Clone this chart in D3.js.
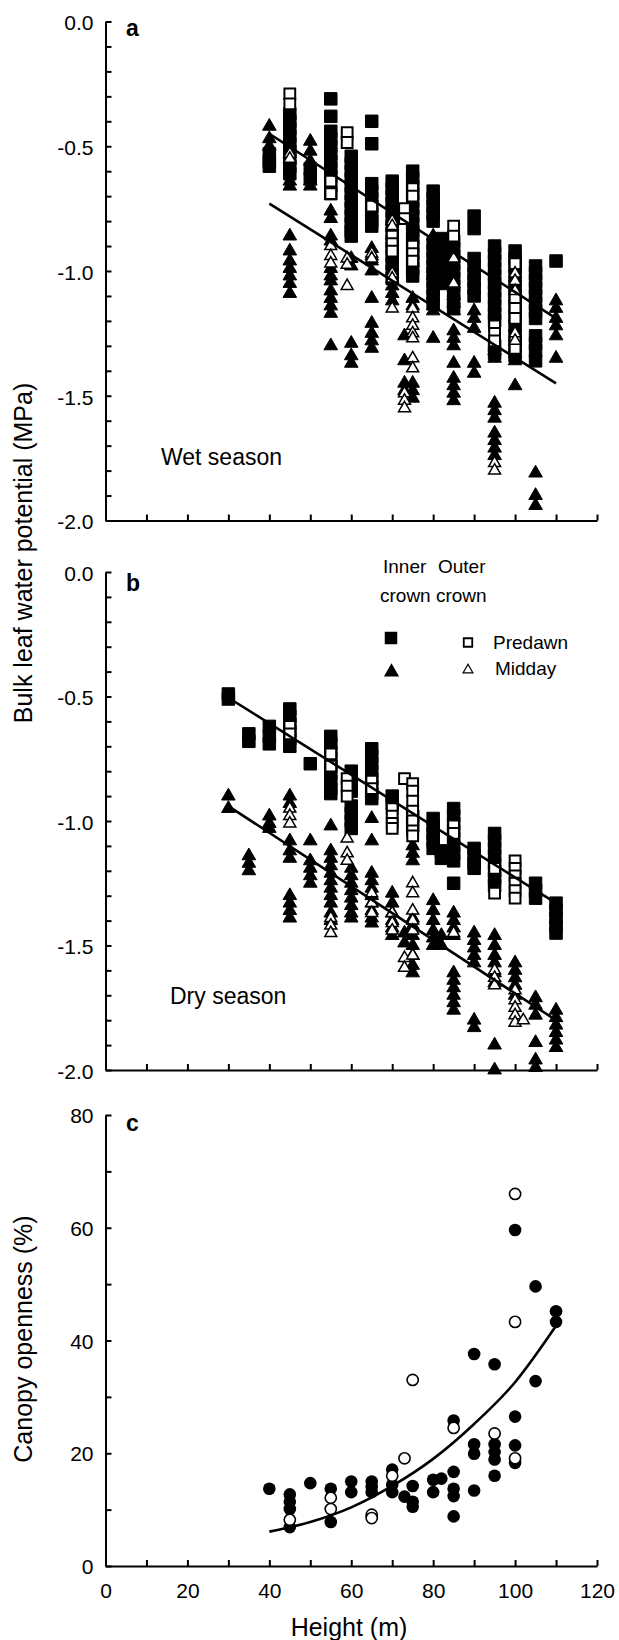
<html>
<head>
<meta charset="utf-8">
<script src="https://d3js.org/d3.v7.min.js"></script>
<style>
  body { margin: 0; background: #fff; }
  svg text { font-family: "Liberation Sans", Arial, sans-serif; fill: #000; }
  .axis path, .axis line { stroke: #000; stroke-width: 2; }
  .axis text { font-size: 21px; }
</style>
</head>
<body>
<svg id="fig" width="619" height="1640"></svg>
<script>
// ---- data: [height (m), values...] ----
// panel a, wet season
const wetInnerPredawn = [
  [40, -0.53, -0.56, -0.58],
  [45, -0.37, -0.40, -0.43, -0.46, -0.49, -0.52, -0.55, -0.58, -0.61],
  [50, -0.59, -0.63],
  [55, -0.31, -0.38, -0.44, -0.47, -0.50, -0.53, -0.56, -0.59, -0.62, -0.66, -0.69],
  [60, -0.54, -0.57, -0.60, -0.63, -0.66, -0.69, -0.72, -0.75, -0.78, -0.81, -0.84, -0.86],
  [65, -0.40, -0.49, -0.65, -0.68, -0.71, -0.74, -0.77, -0.80, -0.82],
  [70, -0.64, -0.67, -0.70, -0.73, -0.76, -0.79, -0.82, -0.85, -0.88, -0.91, -0.94, -0.97, -1.00, -1.03],
  [75, -0.60, -0.63, -0.66, -0.69, -0.72, -0.75, -0.78, -0.81, -0.84, -0.87, -0.90, -0.93, -0.96, -0.99, -1.02],
  [80, -0.68, -0.71, -0.74, -0.77, -0.80, -0.89, -0.92, -0.95, -0.98, -1.01, -1.04, -1.07, -1.10, -1.13],
  [82, -0.87, -0.90, -0.93, -0.96, -0.99, -1.02, -1.05],
  [85, -0.88, -0.91, -0.94, -0.97, -1.00, -1.03, -1.06, -1.09, -1.12, -1.15],
  [90, -0.78, -0.83, -0.95, -0.98, -1.01, -1.04, -1.07, -1.10],
  [95, -0.90, -0.93, -0.96, -0.99, -1.02, -1.05, -1.08, -1.11, -1.14, -1.17, -1.20, -1.30, -1.33],
  [100, -0.92, -0.95, -0.98, -1.02, -1.06, -1.10, -1.14, -1.18, -1.22, -1.26, -1.30, -1.34],
  [105, -0.98, -1.01, -1.04, -1.07, -1.10, -1.13, -1.16, -1.19, -1.26, -1.29, -1.32, -1.36],
  [110, -0.96]
];
const wetOuterPredawn = [
  [45, -0.29, -0.33],
  [55, -0.64, -0.69],
  [59, -0.445, -0.485],
  [65, -0.74],
  [70, -0.86, -0.89, -0.92],
  [73, -0.75, -0.79],
  [75, -0.67, -0.70, -0.90, -0.93, -0.96],
  [85, -0.82, -0.86],
  [95, -1.22, -1.25, -1.28],
  [100, -0.97, -1.11, -1.15, -1.19, -1.28, -1.31]
];
const wetInnerMidday = [
  [40, -0.42, -0.47, -0.50],
  [45, -0.64, -0.66, -0.86, -0.92, -0.96, -0.99, -1.02, -1.05, -1.09],
  [50, -0.48, -0.52, -0.56, -0.64, -0.66],
  [55, -0.76, -0.79, -0.86, -0.88, -0.99, -1.02, -1.04, -1.08, -1.11, -1.14, -1.17, -1.30],
  [60, -0.95, -0.98, -1.29, -1.34, -1.37],
  [65, -0.91, -0.94, -0.96, -1.00, -1.11, -1.21, -1.25, -1.28, -1.31],
  [70, -1.06, -1.09, -1.12],
  [73, -1.26, -1.36, -1.45, -1.48],
  [75, -1.11, -1.14, -1.45, -1.48, -1.51],
  [80, -0.86, -0.99, -1.02, -1.14, -1.16, -1.27],
  [82, -1.00, -1.03],
  [85, -1.10, -1.13, -1.16, -1.24, -1.27, -1.30, -1.37, -1.43, -1.46, -1.49, -1.52],
  [90, -1.16, -1.19, -1.23, -1.37, -1.41],
  [95, -1.32, -1.35, -1.53, -1.56, -1.59, -1.65, -1.68, -1.71, -1.74],
  [100, -1.33, -1.36, -1.46],
  [105, -1.81, -1.90, -1.94],
  [110, -1.12, -1.15, -1.19, -1.22, -1.26, -1.35]
];
const wetOuterMidday = [
  [45, -0.53, -0.55],
  [55, -0.90, -0.94, -0.97],
  [59, -0.95, -0.975, -1.06],
  [65, -0.93, -0.95],
  [70, -0.80, -0.82, -1.01, -1.03, -1.15],
  [73, -1.49, -1.52, -1.55],
  [75, -1.15, -1.19, -1.22, -1.25, -1.27, -1.35, -1.39],
  [85, -0.95, -1.05],
  [95, -1.77, -1.80],
  [100, -1.01, -1.04, -1.08, -1.25, -1.28]
];
const wetPredawnFit = [[40, -0.45], [110, -1.19]];
const wetMiddayFit = [[40, -0.73], [110, -1.45]];

// panel b, dry season
const dryInnerPredawn = [
  [30, -0.49, -0.51],
  [35, -0.65, -0.68],
  [40, -0.62, -0.66, -0.69],
  [45, -0.55, -0.58, -0.61, -0.64, -0.67, -0.70],
  [50, -0.77],
  [55, -0.66, -0.69, -0.72, -0.75, -0.78, -0.81, -0.84, -0.87, -0.89],
  [60, -0.80, -0.84, -0.88, -0.94, -0.97, -1.00, -1.03],
  [65, -0.71, -0.74, -0.77, -0.80, -0.83, -0.86, -0.89, -0.91],
  [70, -0.90, -0.93],
  [75, -0.98, -1.02],
  [80, -0.99, -1.02, -1.05, -1.08, -1.11],
  [82, -1.12, -1.15],
  [85, -0.95, -0.98, -1.01, -1.04, -1.07, -1.10, -1.13, -1.16, -1.25],
  [90, -1.11, -1.14, -1.17, -1.19],
  [95, -1.05, -1.08, -1.11, -1.14, -1.17, -1.20, -1.23, -1.26],
  [105, -1.25, -1.28, -1.31],
  [110, -1.33, -1.36, -1.39, -1.42, -1.45]
];
const dryOuterPredawn = [
  [45, -0.62, -0.65],
  [55, -0.73, -0.78],
  [59, -0.83, -0.86, -0.90],
  [65, -0.84, -0.87],
  [70, -0.95, -0.98, -1.01, -1.03],
  [73, -0.83],
  [75, -0.85, -0.88, -0.92, -0.96, -1.00, -1.04, -1.06],
  [85, -1.02, -1.05],
  [95, -1.19, -1.29],
  [100, -1.16, -1.19, -1.22, -1.25, -1.28, -1.31]
];
const dryInnerMidday = [
  [30, -0.90, -0.95],
  [35, -1.14, -1.17, -1.20],
  [40, -0.98, -1.01, -1.03],
  [45, -0.90, -0.93, -1.08, -1.12, -1.15, -1.30, -1.33, -1.36, -1.39],
  [50, -1.08, -1.16, -1.19, -1.22, -1.25],
  [55, -1.02, -1.12, -1.15, -1.18, -1.21, -1.24, -1.27, -1.30, -1.33, -1.37, -1.40],
  [60, -1.19, -1.22, -1.25, -1.28, -1.31, -1.34, -1.37, -1.39],
  [65, -0.99, -1.08, -1.21, -1.24, -1.27, -1.30, -1.33, -1.36, -1.39, -1.41],
  [70, -1.29, -1.33, -1.37, -1.40, -1.43, -1.46],
  [73, -1.45, -1.49],
  [75, -1.10, -1.13, -1.16, -1.39, -1.42, -1.46, -1.50, -1.54, -1.58, -1.61],
  [80, -1.32, -1.36, -1.40, -1.44, -1.47, -1.50],
  [82, -1.46, -1.50],
  [85, -1.37, -1.40, -1.43, -1.46, -1.61, -1.64, -1.67, -1.70, -1.73, -1.76],
  [90, -1.45, -1.48, -1.51, -1.54, -1.57, -1.80, -1.83],
  [95, -1.46, -1.50, -1.54, -1.57, -1.61, -1.65, -1.90, -2.00],
  [100, -1.57, -1.60, -1.63, -1.66, -1.70],
  [105, -1.71, -1.74, -1.78, -1.89, -1.96, -1.99],
  [110, -1.76, -1.79, -1.82, -1.85, -1.88, -1.91]
];
const dryOuterMidday = [
  [45, -0.95, -0.98, -1.01],
  [55, -1.39, -1.42, -1.45],
  [59, -1.07, -1.13, -1.16],
  [65, -1.29, -1.33, -1.37],
  [70, -1.37, -1.41, -1.44],
  [73, -1.55, -1.59],
  [75, -1.25, -1.29, -1.36, -1.40, -1.44, -1.54],
  [85, -1.45],
  [95, -1.60, -1.63, -1.66],
  [100, -1.68, -1.72, -1.75, -1.78, -1.81],
  [102, -1.80]
];
const dryPredawnFit = [[30, -0.505], [110, -1.33]];
const dryMiddayFit = [[30, -0.94], [110, -1.80]];

// panel c, canopy openness (%)
const canopyInner = [
  [40, 13.7],
  [45, 12.7, 11.4, 10.1, 6.9],
  [50, 14.7],
  [55, 13.7, 7.8],
  [60, 15.0, 13.1],
  [65, 15.0, 14.0, 13.1],
  [70, 17.1, 14.4, 13.1],
  [73, 12.3],
  [75, 14.2, 11.4, 10.5],
  [80, 15.3, 13.1],
  [82, 15.5],
  [85, 25.8, 16.7, 13.7, 12.4, 8.8],
  [90, 37.6, 21.6, 19.9, 13.4],
  [95, 35.8, 21.6, 20.2, 18.9, 16.0],
  [100, 59.6, 26.5, 21.4, 18.3],
  [105, 49.6, 32.8],
  [110, 45.2, 43.3]
];
const canopyOuter = [
  [45, 8.2],
  [55, 12.1, 10.1],
  [65, 9.1, 8.5],
  [70, 16.0],
  [73, 19.1],
  [75, 33.0],
  [85, 24.5],
  [95, 23.5],
  [100, 66.0, 43.3, 19.1]
];
const canopyFitH = [40, 50, 60, 70, 80, 90, 100, 110];
const canopyFitV = [6.1, 7.8, 10.4, 14.2, 19.0, 25.2, 32.6, 42.6];

const heightTicks = [0, 10, 20, 30, 40, 50, 60, 70, 80, 90, 100, 110, 120];
const waterLabels = ['0.0', '-0.5', '-1.0', '-1.5', '-2.0'];
const canopyTicks = [0, 10, 20, 30, 40, 50, 60, 70, 80];

// ---- scales ----
const svg = d3.select('svg#fig');
const x = d3.scaleLinear().domain([0, 120]).range([105.5, 597]);
const yA = d3.scaleLinear().domain([-2, 0]).range([520.5, 21.5]);
const yB = d3.scaleLinear().domain([-2, 0]).range([1070, 572]);
const yC = d3.scaleLinear().domain([0, 80]).range([1566, 1115]);

const flat = rows => rows.flatMap(([h, ...vs]) => vs.map(v => ({h, v})));
const waterTicks = d3.range(0, 21).map(i => -i / 10);

function waterAxes(y) {
  svg.append('g').attr('class', 'axis')
    .attr('transform', `translate(${x(0)},0)`)
    .call(d3.axisLeft(y).tickValues(waterTicks).tickSize(-6).tickSizeOuter(0).tickPadding(12)
      .tickFormat((d, i) => i % 5 === 0 ? waterLabels[i / 5] : ''))
    .selectAll('text').attr('dy', '0.4em');
  svg.append('g').attr('class', 'axis')
    .attr('transform', `translate(0,${y(-2)})`)
    .call(d3.axisBottom(x).tickValues(heightTicks).tickSize(-6).tickSizeOuter(0).tickFormat(''));
}

function points(rows, y, shape, size, filled, sw) {
  svg.append('g').selectAll('path').data(flat(rows)).join('path')
    .attr('transform', d => `translate(${x(d.h)},${y(d.v)})`)
    .attr('d', d3.symbol().type(shape).size(size))
    .attr('fill', filled ? '#000' : '#fff')
    .attr('stroke', '#000')
    .attr('stroke-width', sw);
}

function fit(line, y) {
  svg.append('path').datum(line)
    .attr('d', d3.line().x(d => x(d[0])).y(d => y(d[1])))
    .attr('fill', 'none').attr('stroke', '#000').attr('stroke-width', 2.6);
}

// panel a
waterAxes(yA);
points(wetInnerPredawn, yA, d3.symbolSquare, 156, true, 1);
points(wetInnerMidday, yA, d3.symbolTriangle, 80, true, 1);
points(wetOuterPredawn, yA, d3.symbolSquare, 116, false, 2);
points(wetOuterMidday, yA, d3.symbolTriangle, 62, false, 1.5);
fit(wetPredawnFit, yA);
fit(wetMiddayFit, yA);

// panel b
waterAxes(yB);
points(dryInnerPredawn, yB, d3.symbolSquare, 156, true, 1);
points(dryInnerMidday, yB, d3.symbolTriangle, 80, true, 1);
points(dryOuterPredawn, yB, d3.symbolSquare, 116, false, 2);
points(dryOuterMidday, yB, d3.symbolTriangle, 62, false, 1.5);
fit(dryPredawnFit, yB);
fit(dryMiddayFit, yB);

// panel c
svg.append('g').attr('class', 'axis')
  .attr('transform', `translate(${x(0)},0)`)
  .call(d3.axisLeft(yC).tickValues(canopyTicks).tickSize(-6).tickSizeOuter(0).tickPadding(12)
    .tickFormat(d => d % 20 === 0 ? d : ''))
  .selectAll('text').attr('dy', '0.36em');
svg.append('g').attr('class', 'axis')
  .attr('transform', `translate(0,${yC(0)})`)
  .call(d3.axisBottom(x).tickValues(heightTicks).tickSize(-6).tickSizeOuter(0).tickPadding(17)
    .tickFormat(d => d % 20 === 0 ? d : ''));

svg.append('g').selectAll('circle').data(flat(canopyInner)).join('circle')
  .attr('cx', d => x(d.h)).attr('cy', d => yC(d.v)).attr('r', 6.3).attr('fill', '#000');
svg.append('g').selectAll('circle').data(flat(canopyOuter)).join('circle')
  .attr('cx', d => x(d.h)).attr('cy', d => yC(d.v)).attr('r', 5.6)
  .attr('fill', '#fff').attr('stroke', '#000').attr('stroke-width', 1.6);
svg.append('path').datum(canopyFitH.map((h, i) => [h, canopyFitV[i]]))
  .attr('d', d3.line().x(d => x(d[0])).y(d => yC(d[1])).curve(d3.curveMonotoneX))
  .attr('fill', 'none').attr('stroke', '#000').attr('stroke-width', 2.6);

// labels
const txt = (s, px, py, size, opts = {}) => {
  const t = svg.append('text').attr('x', px).attr('y', py).attr('font-size', size).text(s);
  if (opts.bold) t.attr('font-weight', 'bold');
  if (opts.anchor) t.attr('text-anchor', opts.anchor);
  if (opts.rotate) t.attr('transform', `rotate(-90,${px},${py})`);
  return t;
};
txt('a', 126, 36, 23, {bold: true});
txt('b', 126, 591, 23, {bold: true});
txt('c', 126, 1131, 23, {bold: true});
txt('Wet season', 161, 465, 23);
txt('Dry season', 170, 1004, 23);
txt('Bulk leaf water potential (MPa)', 32, 553, 25, {anchor: 'middle', rotate: true});
txt('Canopy openness (%)', 32, 1339, 25, {anchor: 'middle', rotate: true});
txt('Height (m)', 349, 1636, 25, {anchor: 'middle'});

// legend
txt('Inner', 383, 573, 19);
txt('Outer', 438, 573, 19);
txt('crown crown', 380, 602, 19);
txt('Predawn', 493, 649, 19);
txt('Midday', 495, 675, 19);
svg.append('path').attr('transform', 'translate(391,638)')
  .attr('d', d3.symbol().type(d3.symbolSquare).size(156)).attr('fill', '#000');
svg.append('path').attr('transform', 'translate(468,642.5)')
  .attr('d', d3.symbol().type(d3.symbolSquare).size(72)).attr('fill', '#fff')
  .attr('stroke', '#000').attr('stroke-width', 1.8);
svg.append('path').attr('transform', 'translate(391.5,672)')
  .attr('d', d3.symbol().type(d3.symbolTriangle).size(100)).attr('fill', '#000');
svg.append('path').attr('transform', 'translate(468,670)')
  .attr('d', d3.symbol().type(d3.symbolTriangle).size(42)).attr('fill', '#fff')
  .attr('stroke', '#000').attr('stroke-width', 1.2);
</script>
</body>
</html>
